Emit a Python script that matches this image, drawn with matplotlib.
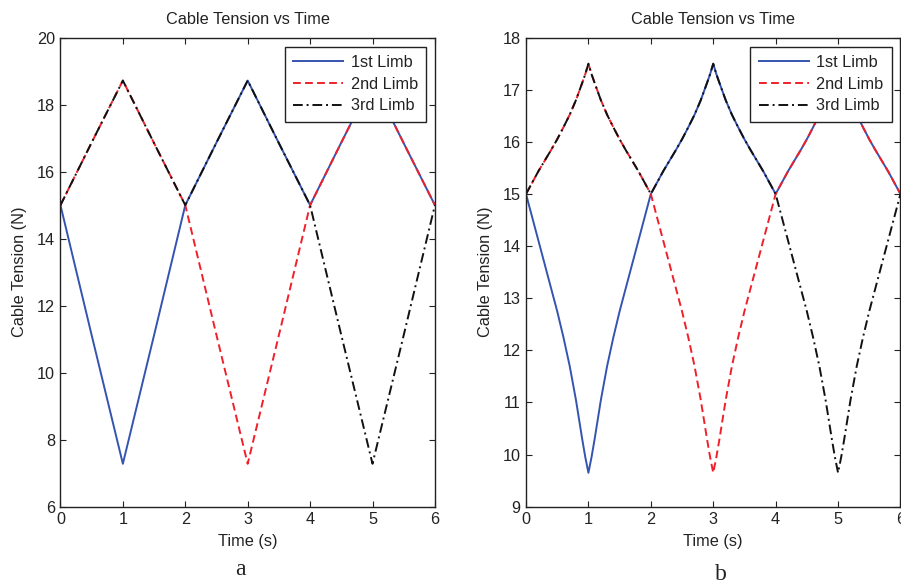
import matplotlib
matplotlib.use("Agg")
import matplotlib.pyplot as plt
import numpy as np

plt.rcParams['font.family'] = ['Liberation Sans', 'DejaVu Sans']

# ---- data ----
# time within one 2 s segment
seg_t_a = [0.0, 0.5, 1.0, 1.5, 2.0]
dip_a = [15.0, 11.12, 7.28, 11.12, 15.0]
peak_a = [15.0, 16.87, 18.72, 16.85, 15.0]

seg_t_b = [0.0, 0.1, 0.2, 0.3, 0.4, 0.5, 0.6, 0.7, 0.8, 0.9, 0.95, 1.0,
           1.05, 1.1, 1.2, 1.3, 1.4, 1.5, 1.6, 1.7, 1.8, 1.9, 2.0]
dip_b = [15.0, 14.55, 14.1, 13.65, 13.2, 12.75, 12.25, 11.7, 11.05, 10.3, 9.95, 9.65,
         9.95, 10.3, 11.05, 11.7, 12.25, 12.75, 13.2, 13.65, 14.1, 14.55, 15.0]
peak_b = [15.0, 15.22, 15.44, 15.64, 15.84, 16.05, 16.28, 16.52, 16.8, 17.13, 17.3, 17.5,
          17.3, 17.13, 16.8, 16.52, 16.28, 16.05, 15.84, 15.64, 15.44, 15.22, 15.0]

# segment order for each limb over 0-2, 2-4, 4-6 s
limb_names = ['1st Limb', '2nd Limb', '3rd Limb']
limb_order = [['dip', 'peak', 'peak'],
              ['peak', 'dip', 'peak'],
              ['peak', 'peak', 'dip']]

title = 'Cable Tension vs Time'
xlabel = 'Time (s)'
ylabel = 'Cable Tension (N)'
xticks = [0, 1, 2, 3, 4, 5, 6]
yticks_a = [6, 8, 10, 12, 14, 16, 18, 20]
yticks_b = [9, 10, 11, 12, 13, 14, 15, 16, 17, 18]
captions = ['a', 'b']

colors = ['#3553b0', '#f0202a', '#111111']
styles = ['-', (0, (4, 2.2)), (0, (5, 2, 1, 2))]
FS = 11.7


def build(seg_t, dip, peak, order):
    t_all, v_all = [], []
    for k, kind in enumerate(order):
        vals = dip if kind == 'dip' else peak
        ts = [k * 2 + t for t in seg_t]
        if k > 0:
            ts, vals = ts[1:], vals[1:]
        t_all += ts
        v_all += list(vals)
    return t_all, v_all


fig = plt.figure(figsize=(9.01, 5.84), dpi=100)
ax_a = fig.add_axes([0.0671, 0.1324, 0.4156, 0.8031])
ax_b = fig.add_axes([0.5838, 0.1324, 0.4156, 0.8031])

panels = [(ax_a, seg_t_a, dip_a, peak_a, (6, 20), yticks_a),
          (ax_b, seg_t_b, dip_b, peak_b, (9, 18), yticks_b)]

for i, (ax, st, dp, pk, ylim, yt) in enumerate(panels):
    for j in range(3):
        t, v = build(st, dp, pk, limb_order[j])
        ax.plot(t, v, color=colors[j], linestyle=styles[j], linewidth=1.4,
                label=limb_names[j])
    ax.set_xlim(0, 6)
    ax.set_ylim(*ylim)
    ax.set_xticks(xticks)
    ax.set_yticks(yt)
    ax.tick_params(direction='in', top=True, right=True, length=4,
                   width=0.8, labelsize=FS, colors='#222222', pad=4)
    for s in ax.spines.values():
        s.set_linewidth(1.0)
        s.set_color('#222222')
    ax.set_title(title, fontsize=FS, color='#222222', pad=9.5)
    ax.set_xlabel(xlabel, fontsize=FS, color='#222222', labelpad=5)
    ax.set_ylabel(ylabel, fontsize=FS, color='#222222', labelpad=7)
    leg = ax.legend(loc='upper right', fontsize=FS, fancybox=False,
                    framealpha=1, edgecolor='#222222', handlelength=3.1,
                    handletextpad=0.45, borderaxespad=0.55,
                    labelspacing=0.42, borderpad=0.5)
    leg.get_frame().set_linewidth(1.0)
    for txt in leg.get_texts():
        txt.set_color('#222222')

fig.text(240 / 901, 1 - 575 / 584, captions[0], ha='center', va='baseline',
         fontsize=17, family='Liberation Serif', color='#222222')
fig.text(721 / 901, 1 - 580 / 584, captions[1], ha='center', va='baseline',
         fontsize=17, family='Liberation Serif', color='#222222')

fig.savefig('out.png', dpi=100)
